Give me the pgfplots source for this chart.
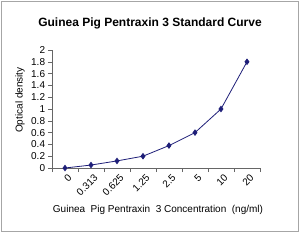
\documentclass[border=0pt]{standalone}
\usepackage{pgfplots}
\pgfplotsset{compat=1.18}
\usepackage{fontspec}
\setmainfont{Liberation Sans}
\definecolor{navyl}{RGB}{30,30,120}
\begin{document}
\begin{tikzpicture}[x=0.75pt,y=0.75pt]
\useasboundingbox (-52,168) rectangle (248,-72);
\draw[gray!70, line width=0.6pt] (-51,167) rectangle (246,-63);
\begin{axis}[
  at={(0,0)}, anchor=south west,
  scale only axis, width=156pt, height=88.5pt,
  xmin=-0.5, xmax=7.5, ymin=0, ymax=2,
  axis lines=left, axis line style={-, gray!80!black, line width=0.5pt},
  xtick={0,...,7},
  xticklabels={0,0.313,0.625,1.25,2.5,5,10,20},
  major x tick style={draw=none},
  minor xtick={-0.5,0.5,...,7.5},
  minor x tick style={gray!80!black},
  ytick={0,0.2,...,2},
  yticklabels={0,0.2,0.4,0.6,0.8,1,1.2,1.4,1.6,1.8,2},
  tick align=outside,
  major tick length=3pt, minor tick length=3pt,
  y tick style={gray!80!black},
  tick label style={font=\fontsize{7.5}{8}\selectfont},
  xticklabel style={rotate=45, anchor=east, xshift=1pt, yshift=-5pt, inner sep=0.5pt},
  yticklabel style={inner sep=2pt},
  /pgf/number format/assume math mode=true,
  clip=false,
]
\addplot[color=navyl, line width=0.6pt, mark=diamond*, mark size=2pt, mark options={fill=navyl}]
  coordinates {(0,0) (1,0.05) (2,0.12) (3,0.2) (4,0.38) (5,0.6) (6,1.0) (7,1.8)};
\end{axis}
\node[font=\bfseries\fontsize{9}{10}\selectfont] at (98,145) {Guinea Pig Pentraxin 3 Standard Curve};
\node[font=\fontsize{7.5}{8}\selectfont, rotate=90] at (-32,68) {Optical density};
\node[font=\fontsize{7.5}{8}\selectfont] at (106,-42) {Guinea\ \ Pig Pentraxin\ \ 3 Concentration\ \ (ng/ml)};
\end{tikzpicture}
\end{document}
